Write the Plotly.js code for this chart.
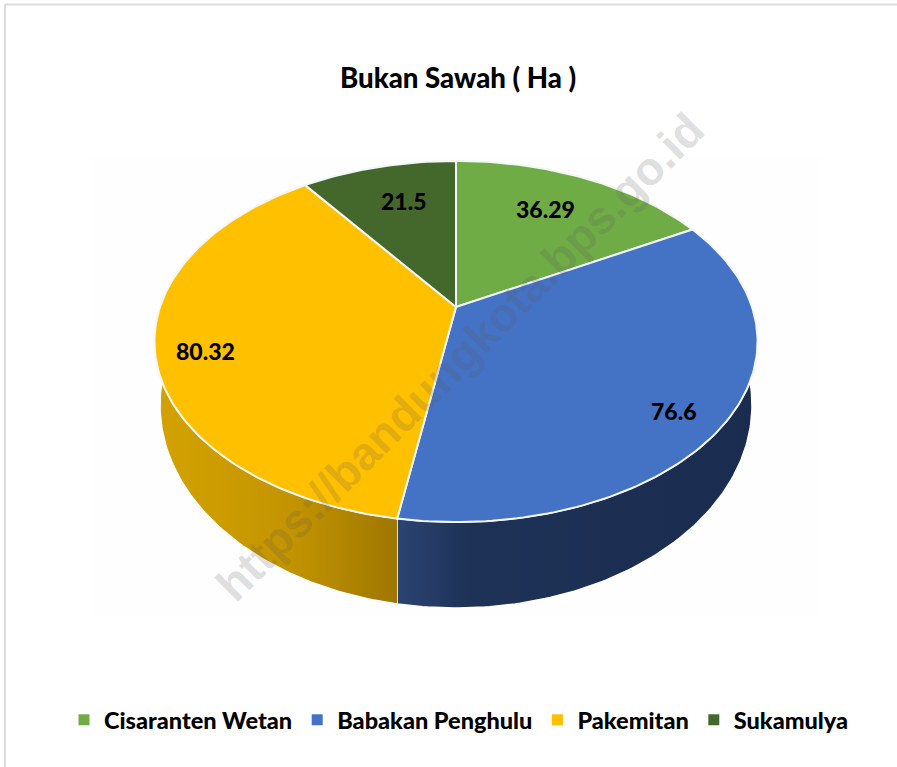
<!DOCTYPE html>
<html>
<head>
<meta charset="utf-8">
<script src="https://cdn.plot.ly/plotly-3.0.1.min.js"></script>
<style>html,body{margin:0;padding:0;background:#fff}</style>
</head>
<body>
<div id="chart" style="width:897px;height:767px"></div>
<script>
// Data
const categories = ["Cisaranten Wetan", "Babakan Penghulu", "Pakemitan", "Sukamulya"];
const values = [36.29, 76.6, 80.32, 21.5];
const valueLabels = ["36.29", "76.6", "80.32", "21.5"];
const colors = ["#6fac46", "#4472c4", "#ffc000", "#44682b"];
const labelX = [545, 674, 205, 404];
const labelY = [209, 411, 351, 201];

// Perspective disc geometry (pixel-scale axes)
const cx = 456, cy = 307, A = 296, B = 174, k = 0.191;
const botCy = 405, botRx = 296, botRy = 203;
const FONT = 'Lato, "Open Sans", sans-serif';

function rim(deg) {
  const t = deg * Math.PI / 180, u = Math.sin(t), v = Math.cos(t), w = 1 + k * v;
  return [cx + A * u / w, cy - B * v / w];
}
function bottom(deg) {
  const t = deg * Math.PI / 180;
  return [cx + botRx * Math.sin(t), botCy - botRy * Math.cos(t)];
}
function arc(fn, a, b) {
  const pts = [], n = Math.max(2, Math.ceil(Math.abs(b - a)));
  for (let i = 0; i <= n; i++) pts.push(fn(a + (b - a) * i / n));
  return pts;
}

const total = values.reduce((s, v) => s + v, 0);
const starts = [];
let acc = 0;
values.forEach(v => { starts.push(acc); acc += v / total * 360; });
const ends = starts.map((s, i) => s + values[i] / total * 360);

function poly(pts, extra) {
  return Object.assign({
    type: "scatter", mode: "lines", x: pts.map(p => p[0]), y: pts.map(p => p[1]),
    fill: "toself", hoverinfo: "skip", showlegend: false
  }, extra);
}

// Side walls
const seam = ends[1];
const seamPhi = 180 + Math.asin((cx - rim(seam)[0]) / botRx) * 180 / Math.PI;
const wallBlue = arc(rim, 111.3, seam).concat(arc(bottom, seamPhi, 81.5));
const wallGold = arc(rim, seam, 248.7).concat(arc(bottom, 278.5, seamPhi));
const traces = [
  poly(wallBlue, {
    line: {color: "#ffffff", width: 1.5},
    fillgradient: {type: "horizontal", colorscale: [[0, "#2c4473"], [0.2, "#1e3257"], [1, "#1a2c4f"]]}
  }),
  poly(wallGold, {
    line: {color: "#ffffff", width: 1.5},
    fillgradient: {type: "horizontal", colorscale: [[0, "#d3a200"], [0.55, "#c39400"], [1, "#9f7700"]]}
  })
];

// Top face slices
categories.forEach((c, i) => {
  const pts = [[cx, cy]].concat(arc(rim, starts[i], ends[i]));
  pts.push([cx, cy]);
  traces.push(poly(pts, {name: c, fillcolor: colors[i], line: {color: "#f4f6f8", width: 2}}));
});

// Legend entries
categories.forEach((c, i) => {
  traces.push({
    type: "scatter", mode: "markers", x: [null], y: [null], name: c,
    marker: {symbol: "square", size: 11, color: colors[i]}, hoverinfo: "skip"
  });
});

const annotations = categories.map((c, i) => ({
  x: labelX[i], y: labelY[i], xref: "x", yref: "y", text: valueLabels[i], showarrow: false,
  font: {family: FONT, size: 23, color: "#000000", weight: 900}
}));
annotations.push({
  x: 460, y: 357, xref: "x", yref: "y", text: "https://bandungkota.bps.go.id", showarrow: false,
  textangle: -45, font: {family: '"Liberation Sans", sans-serif', size: 46.5, color: "rgba(90,90,90,0.2)", weight: 700}
});

const layout = {
  width: 897, height: 767, autosize: false,
  margin: {l: 0, r: 0, t: 0, b: 0},
  paper_bgcolor: "#ffffff", plot_bgcolor: "#ffffff",
  xaxis: {range: [0, 897], visible: false, fixedrange: true},
  yaxis: {range: [767, 0], visible: false, fixedrange: true},
  title: {
    text: "Bukan Sawah ( Ha )", x: 458 / 897, xanchor: "center", y: 1 - 78 / 767, yanchor: "middle",
    font: {family: FONT, size: 27.6, color: "#000000", weight: 900}
  },
  legend: {
    orientation: "h", x: 459 / 897, xanchor: "center", y: 47 / 767, yanchor: "middle",
    font: {family: FONT, size: 23.5, color: "#000000", weight: 900}, itemwidth: 30, bgcolor: "rgba(0,0,0,0)"
  },
  annotations: annotations,
  shapes: [
    {type: "rect", layer: "below", x0: 90, x1: 822, y0: 157, y1: 615, fillcolor: "#fefefe", line: {width: 0}},
    {type: "line", layer: "below", x0: 5, x1: 897, y0: 4.5, y1: 4.5, line: {color: "#dcdcdc", width: 2}},
    {type: "line", layer: "below", x0: 5, x1: 5, y0: 4, y1: 767, line: {color: "#dcdcdc", width: 2}}
  ]
};
Plotly.newPlot("chart", traces, layout, {displayModeBar: false});
</script>
</body>
</html>
